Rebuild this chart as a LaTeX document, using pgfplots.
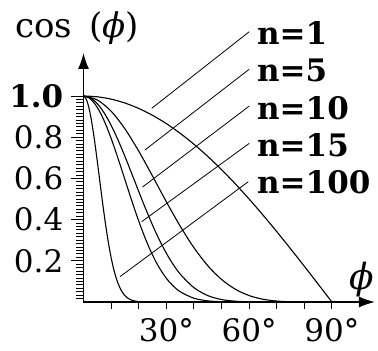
\documentclass[border=0pt]{standalone}
\usepackage{fontspec}
\setmainfont{DejaVu Serif}
\usepackage{pgfplots}
\usepackage{pgfplotstable}
\pgfplotsset{compat=1.18}
\usetikzlibrary{arrows.meta}

% cos^n(phi), phi in degrees
\pgfplotstableread{
phi y
0  1.00000
5  0.99619
10 0.98481
15 0.96593
20 0.93969
25 0.90631
30 0.86603
35 0.81915
40 0.76604
45 0.70711
50 0.64279
55 0.57358
60 0.50000
65 0.42262
70 0.34202
75 0.25882
80 0.17365
85 0.08716
90 0.00000
}\curveA

\pgfplotstableread{
phi y
0  1.00000
5  0.98112
10 0.92631
15 0.84085
20 0.73271
25 0.61148
30 0.48714
35 0.36883
40 0.26380
45 0.17678
50 0.10973
55 0.06208
60 0.03125
65 0.01348
70 0.00468
75 0.00116
80 0.00016
85 0
90 0
}\curveE

\pgfplotstableread{
phi y
0  1.00000
2  0.99393
4  0.97591
6  0.94655
8  0.90683
10 0.85805
12 0.80177
14 0.73968
16 0.67363
18 0.60543
20 0.53686
22 0.46953
24 0.40486
26 0.34362
28 0.28797
30 0.23730
32 0.19240
35 0.13603
40 0.06959
45 0.03125
50 0.01204
55 0.00385
60 0.00098
65 0.00020
70 0
90 0
}\curveJ

\pgfplotstableread{
phi y
0  1.00000
2  0.99091
4  0.96408
6  0.92091
8  0.86355
10 0.79482
12 0.71791
14 0.63616
16 0.55288
18 0.47108
20 0.39336
22 0.32173
24 0.25760
26 0.20143
28 0.15454
30 0.11560
32 0.08439
35 0.05017
40 0.01836
45 0.00553
50 0.00132
55 0.00025
60 0
90 0
}\curveO

\pgfplotstableread{
phi y
0  1.00000
1  0.98489
2  0.94092
3  0.87185
4  0.78357
5  0.68301
6  0.57736
7  0.47324
8  0.37606
9  0.28973
10 0.21634
11 0.15655
12 0.10976
13 0.07454
14 0.04903
15 0.03122
16 0.01924
17 0.01147
18 0.00662
19 0.00369
20 0.00199
22 0.00052
25 0
90 0
}\curveC

\begin{document}
\begin{tikzpicture}
\path[use as bounding box] (-83.5pt,-49pt) rectangle (294.5pt,302pt);
\begin{axis}[
  at={(0pt,0pt)}, anchor=origin,
  x=2.76pt, y=206pt,
  xmin=0, xmax=105.6, ymin=0, ymax=1.209,
  axis lines=left,
  axis line style={line width=1.5pt, -{Latex[length=16pt,width=11pt]}},
  clip=false,
  tick align=outside,
  xtick={30,60,90},
  xticklabels={30°,60°,90°},
  major x tick style={draw=none},
  minor xtick={10,20,30,40,50,60,70,80,90},
  ytick={0.2,0.4,0.6,0.8,1},
  yticklabels={0.2,0.4,0.6,0.8,\textbf{1.0}},
  minor ytick={0.016667,0.033333,...,1.0},
  major tick length=12pt,
  minor tick length=7pt,
  every tick/.style={black, line width=0.9pt},
  ticklabel style={font=\fontsize{31}{36}\selectfont},
  yticklabel style={anchor=east, inner sep=0pt, xshift=-8pt},
  xticklabel style={anchor=north, inner sep=0pt, yshift=-4pt},
  curve/.style={black, line width=1.1pt, smooth, no markers},
]
\addplot[curve] table[x=phi, y=y] {\curveA};
\addplot[curve] table[x=phi, y=y] {\curveE};
\addplot[curve] table[x=phi, y=y] {\curveJ};
\addplot[curve] table[x=phi, y=y] {\curveO};
\addplot[curve] table[x=phi, y=y] {\curveC};

% leader lines to the curve labels
\draw[line width=0.8pt] (axis cs:60.05,1.312) -- (axis cs:24.71,0.940);
\draw[line width=0.8pt] (axis cs:60.05,1.130) -- (axis cs:22.28,0.738);
\draw[line width=0.8pt] (axis cs:60.05,0.951) -- (axis cs:21.38,0.558);
\draw[line width=0.8pt] (axis cs:60.05,0.770) -- (axis cs:21.09,0.390);
\draw[line width=0.8pt] (axis cs:59.71,0.584) -- (axis cs:13.22,0.123);

\begin{scope}[every node/.style={anchor=base west, inner sep=0pt,
    font=\fontsize{31}{36}\selectfont\bfseries}]
\node at (axis cs:62.86,1.2476) {n=1};
\node at (axis cs:62.86,1.0680) {n=5};
\node at (axis cs:62.86,0.8883) {n=10};
\node at (axis cs:62.86,0.7087) {n=15};
\node at (axis cs:62.86,0.5291) {n=100};
\end{scope}

\node[anchor=base west, inner sep=0pt, font=\fontsize{34}{40}\selectfont]
  at (axis cs:-24.82,1.2816) {cos\hspace{17pt}(\textit{ϕ})};
\node[inner sep=0pt, font=\fontsize{36}{40}\selectfont]
  at (axis cs:100.8,0.1068) {\textit{ϕ}};
\end{axis}
\end{tikzpicture}
\end{document}
